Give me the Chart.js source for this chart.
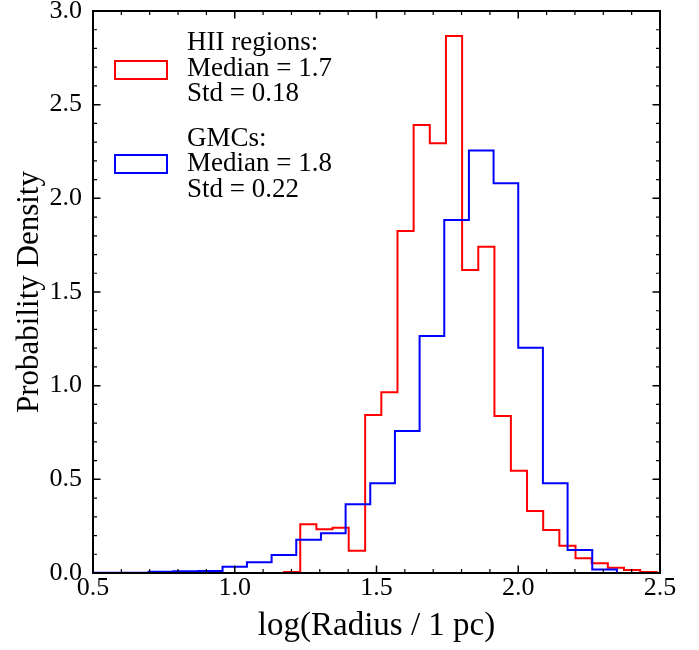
<!DOCTYPE html>
<html>
<head>
<meta charset="utf-8">
<title>Radius distribution</title>
<script src="https://cdn.jsdelivr.net/npm/chart.js@4.4.1/dist/chart.umd.min.js"></script>
<style>
  html, body { margin: 0; padding: 0; background: #fff; }
</style>
</head>
<body>
<canvas id="radiusHist" width="699" height="650"></canvas>
<script>
// histogram bin edges, log(R / pc)
const hiiEdges = [1.174, 1.231, 1.288, 1.345, 1.402, 1.460, 1.517, 1.574, 1.631, 1.688, 1.745, 1.802,
                  1.859, 1.916, 1.974, 2.031, 2.088, 2.145, 2.202, 2.259, 2.316, 2.373, 2.430, 2.488];
const hiiDensity = [0.005, 0.260, 0.233, 0.242, 0.119, 0.844, 0.965, 1.826, 2.392, 2.294, 2.867, 1.618,
                    1.742, 0.838, 0.546, 0.331, 0.230, 0.146, 0.079, 0.052, 0.028, 0.016, 0.005];

const gmcEdges = [0.435, 0.522, 0.609, 0.696, 0.783, 0.870, 0.957, 1.043, 1.130, 1.217, 1.304, 1.391,
                  1.478, 1.565, 1.652, 1.739, 1.826, 1.913, 2.000, 2.087, 2.174, 2.261, 2.348];
const gmcDensity = [0.002, 0.002, 0.002, 0.007, 0.010, 0.011, 0.034, 0.057, 0.096, 0.178, 0.212,
                    0.367, 0.479, 0.758, 1.265, 1.885, 2.255, 2.081, 1.203, 0.479, 0.123, 0.019];

const hiiLegend = ['HII regions:', 'Median = 1.7', 'Std = 0.18'];
const gmcLegend = ['GMCs:', 'Median = 1.8', 'Std = 0.22'];

const xTicks = [0.5, 1.0, 1.5, 2.0, 2.5];
const yTicks = [0.0, 0.5, 1.0, 1.5, 2.0, 2.5, 3.0];

const serif = "'Liberation Serif', 'Times New Roman', serif";
Chart.defaults.font.family = serif;
Chart.defaults.color = '#000';

// outline of a step histogram: up from zero at the first edge, down at the last
function stepPoints(edges, density) {
    const pts = [{x: edges[0], y: 0}];
    density.forEach((d, i) => pts.push({x: edges[i], y: d}));
    pts.push({x: edges[edges.length - 1], y: density[density.length - 1]});
    pts.push({x: edges[edges.length - 1], y: 0});
    return pts;
}

// box frame with inward major/minor ticks on all four sides
const frameTicks = {
    id: 'frameTicks',
    afterDatasetsDraw(chart) {
        const {ctx, chartArea: a, scales: {x, y}} = chart;
        ctx.save();
        ctx.strokeStyle = '#000';
        const drawSet = (ticks, len, width) => {
            ctx.lineWidth = width;
            ctx.beginPath();
            ticks.forEach(v => {
                const px = x.getPixelForValue(v.x), py = y.getPixelForValue(v.y);
                if (v.x !== undefined) {
                    ctx.moveTo(px, a.bottom); ctx.lineTo(px, a.bottom - len);
                    ctx.moveTo(px, a.top); ctx.lineTo(px, a.top + len);
                } else {
                    ctx.moveTo(a.left, py); ctx.lineTo(a.left + len, py);
                    ctx.moveTo(a.right, py); ctx.lineTo(a.right - len, py);
                }
            });
            ctx.stroke();
        };
        const minors = (ticks) => {
            const out = [];
            for (let i = 0; i < ticks.length - 1; i++) {
                for (let k = 1; k < 5; k++) out.push(ticks[i] + (ticks[i + 1] - ticks[i]) * k / 5);
            }
            return out;
        };
        drawSet(minors(xTicks).map(v => ({x: v})), 4, 1.2);
        drawSet(minors(yTicks).map(v => ({y: v})), 4, 1.2);
        drawSet(xTicks.map(v => ({x: v})), 7.5, 1.5);
        drawSet(yTicks.map(v => ({y: v})), 7.5, 1.5);
        ctx.lineWidth = 2;
        ctx.strokeRect(a.left, a.top, a.right - a.left, a.bottom - a.top);
        ctx.restore();
    }
};

// legend: open boxes next to three-line labels
const boxLegend = {
    id: 'boxLegend',
    afterDraw(chart) {
        const ctx = chart.ctx;
        const ds = chart.data.datasets;
        const blocks = [
            {lines: hiiLegend, color: ds[0].borderColor, base: 50, boxTop: 61},
            {lines: gmcLegend, color: ds[1].borderColor, base: 145.5, boxTop: 155}
        ];
        ctx.save();
        ctx.font = '27px ' + serif;
        ctx.fillStyle = '#000';
        ctx.textBaseline = 'alphabetic';
        blocks.forEach(b => {
            ctx.strokeStyle = b.color;
            ctx.lineWidth = 2;
            ctx.strokeRect(115, b.boxTop, 52, 18);
            b.lines.forEach((t, i) => ctx.fillText(t, 187, b.base + i * 25.5));
        });
        ctx.restore();
    }
};

const ctx = document.getElementById('radiusHist').getContext('2d');
const radiusHist = new Chart(ctx, {
    type: 'line',
    data: {
        datasets: [{
            label: 'HII regions',
            data: stepPoints(hiiEdges, hiiDensity),
            borderColor: 'rgb(255, 0, 0)',
            borderWidth: 2,
            stepped: 'before',
            pointRadius: 0,
            fill: false,
            order: 1
        }, {
            label: 'GMCs',
            data: stepPoints(gmcEdges, gmcDensity),
            borderColor: 'rgb(0, 0, 255)',
            borderWidth: 2,
            stepped: 'before',
            pointRadius: 0,
            fill: false,
            order: 0
        }]
    },
    options: {
        responsive: false,
        animation: false,
        layout: {
            autoPadding: false,
            padding: {top: 11, right: 39, left: 0, bottom: 0}
        },
        scales: {
            x: {
                type: 'linear',
                min: 0.5,
                max: 2.5,
                afterBuildTicks: s => { s.ticks = xTicks.map(v => ({value: v})); },
                afterFit: s => {
                    s.height = 77;
                    s.paddingLeft = 0;
                    s.paddingRight = 0;
                },
                ticks: {
                    callback: v => v.toFixed(1),
                    font: {size: 26},
                    padding: 0,
                    maxRotation: 0
                },
                grid: {display: false, drawTicks: false},
                border: {display: false},
                title: {
                    display: true,
                    text: 'log(Radius / 1 pc)',
                    font: {size: 33},
                    padding: {top: 0, bottom: 4}
                }
            },
            y: {
                type: 'linear',
                min: 0,
                max: 3,
                afterBuildTicks: s => { s.ticks = yTicks.map(v => ({value: v})); },
                afterFit: s => {
                    s.width = 93;
                    s.paddingTop = 0;
                    s.paddingBottom = 0;
                },
                ticks: {
                    callback: v => v.toFixed(1),
                    font: {size: 26},
                    padding: 11
                },
                grid: {display: false, drawTicks: false},
                border: {display: false},
                title: {
                    display: true,
                    text: 'Probability Density',
                    font: {size: 31},
                    padding: {top: 11, bottom: 0}
                }
            }
        },
        plugins: {
            legend: {display: false},
            tooltip: {enabled: false}
        }
    },
    plugins: [frameTicks, boxLegend]
});
</script>
</body>
</html>
